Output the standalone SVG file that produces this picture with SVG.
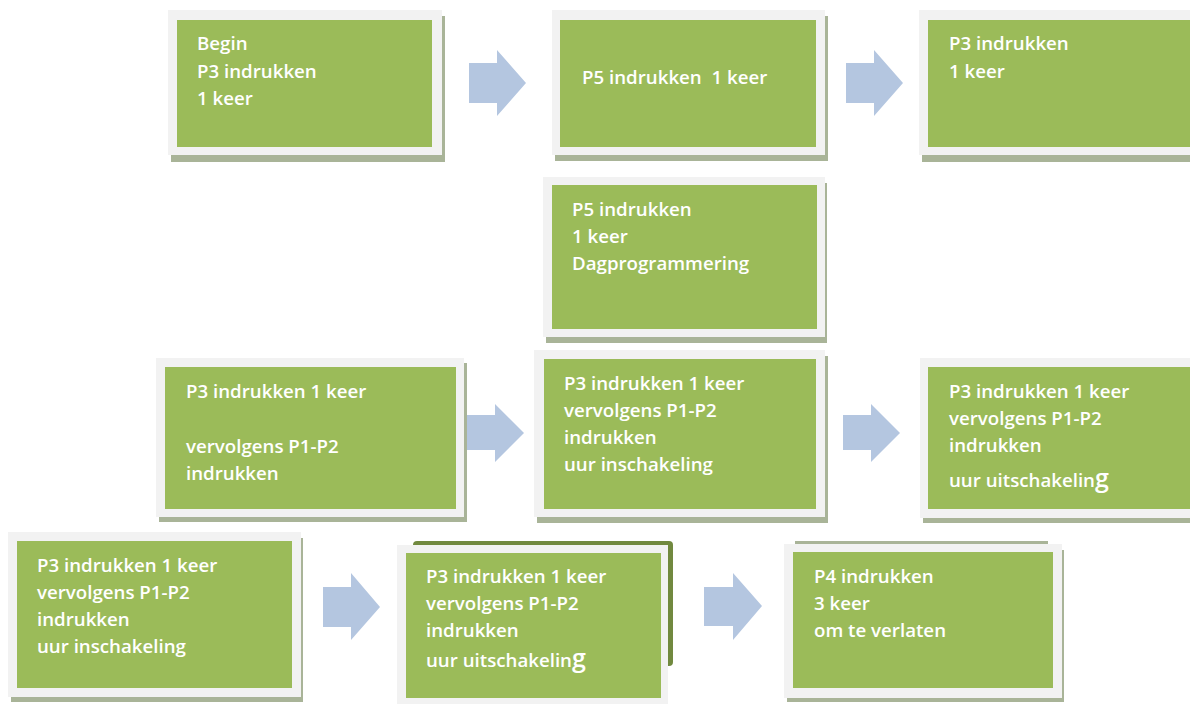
<svg xmlns="http://www.w3.org/2000/svg" width="1190" height="704" viewBox="0 0 1190 704">
<style>
.sh{fill:#a9b498}
.fr{fill:#f2f2f2}
.gr{fill:#9bbb59}
.ar{fill:#b4c6e0}
text{font-family:"Open Sans","Liberation Sans",sans-serif;font-weight:600;font-size:18.7px;fill:#ffffff}
.big{font-size:25px}
</style>
<rect width="1190" height="704" fill="#ffffff"/>
<g id="connectors">
<polygon class="ar" points="469,63 497,63 497,50 526,83 497,116 497,103 469,103"/>
<polygon class="ar" points="846,63 874,63 874,50 903,83 874,116 874,103 846,103"/>
<polygon class="ar" points="466,415 495,415 495,404 524,433 495,462 495,450 466,450"/>
<polygon class="ar" points="843,415 871,415 871,404 900,433 871,462 871,450 843,450"/>
<polygon class="ar" points="323,587 351,587 351,573 380,607 351,640 351,627 323,627"/>
<polygon class="ar" points="704,587 733,587 733,573 762,606 733,640 733,626 704,626"/>
</g>
<g id="n1">
<rect class="sh" x="171" y="16" width="274" height="146"/>
<rect class="fr" x="168" y="10" width="274" height="145"/>
<rect class="gr" x="177" y="20" width="255" height="127"/>
<text x="197" y="50">Begin</text>
<text x="197" y="78">P3 indrukken</text>
<text x="197" y="105">1 keer</text>
</g>
<g id="n2">
<rect class="sh" x="555" y="16" width="273" height="145"/>
<rect class="fr" x="552" y="10" width="273" height="145"/>
<rect class="gr" x="560" y="20" width="256" height="127"/>
<text x="582" y="84" xml:space="preserve">P5 indrukken  1 keer</text>
</g>
<g id="n3">
<rect class="sh" x="922" y="16" width="280" height="146"/>
<rect class="fr" x="919" y="10" width="280" height="145"/>
<rect class="gr" x="928" y="20" width="270" height="127"/>
<text x="949" y="50">P3 indrukken</text>
<text x="949" y="78">1 keer</text>
</g>
<g id="n4">
<rect class="sh" x="546" y="183" width="281" height="160"/>
<rect class="fr" x="543" y="177" width="282" height="160"/>
<rect class="gr" x="552" y="185" width="265" height="144"/>
<text x="572" y="216">P5 indrukken</text>
<text x="572" y="243">1 keer</text>
<text x="572" y="270">Dagprogrammering</text>
</g>
<g id="n5">
<rect class="sh" x="159" y="363" width="308" height="159"/>
<rect class="fr" x="156" y="358" width="308" height="159"/>
<rect class="gr" x="165" y="367" width="291" height="142"/>
<text x="186" y="398">P3 indrukken 1 keer</text>
<text x="186" y="453">vervolgens P1-P2</text>
<text x="186" y="480">indrukken</text>
</g>
<g id="n6">
<rect class="sh" x="537" y="356" width="291" height="167"/>
<rect class="fr" x="534" y="350" width="291" height="167"/>
<rect class="gr" x="544" y="359" width="272" height="150"/>
<text x="564" y="390">P3 indrukken 1 keer</text>
<text x="564" y="417">vervolgens P1-P2</text>
<text x="564" y="444">indrukken</text>
<text x="564" y="471">uur inschakeling</text>
</g>
<g id="n7">
<rect class="sh" x="923" y="364" width="280" height="159"/>
<rect class="fr" x="920" y="358" width="280" height="160"/>
<rect class="gr" x="928" y="367" width="270" height="142"/>
<text x="949" y="398">P3 indrukken 1 keer</text>
<text x="949" y="425">vervolgens P1-P2</text>
<text x="949" y="452">indrukken</text>
<text x="949" y="487">uur uitschakelin<tspan class="big">g</tspan></text>
</g>
<g id="n8">
<rect class="sh" x="11" y="538" width="292" height="164"/>
<rect class="fr" x="8" y="532" width="293" height="165"/>
<rect class="gr" x="17" y="541" width="275" height="147"/>
<text x="37" y="572">P3 indrukken 1 keer</text>
<text x="37" y="599">vervolgens P1-P2</text>
<text x="37" y="626">indrukken</text>
<text x="37" y="653">uur inschakeling</text>
</g>
<g id="n9">
<rect x="413" y="541" width="260" height="125" rx="4" fill="#71893f"/>
<rect class="fr" x="397" y="545" width="271" height="165"/>
<rect class="gr" x="406" y="553" width="255" height="145"/>
<text x="426" y="583">P3 indrukken 1 keer</text>
<text x="426" y="610">vervolgens P1-P2</text>
<text x="426" y="637">indrukken</text>
<text x="426" y="667">uur uitschakelin<tspan class="big">g</tspan></text>
</g>
<g id="n10">
<rect class="sh" x="795" y="541" width="253" height="20"/>
<rect class="sh" x="787" y="550" width="277" height="152"/>
<rect class="fr" x="784" y="544" width="278" height="154"/>
<rect class="gr" x="793" y="552" width="260" height="136"/>
<text x="814" y="583">P4 indrukken</text>
<text x="814" y="610">3 keer</text>
<text x="814" y="637">om te verlaten</text>
</g>
</svg>
